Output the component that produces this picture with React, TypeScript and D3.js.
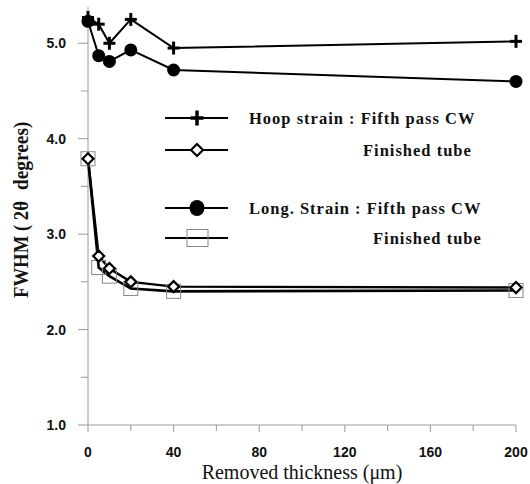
import React from 'react';
import * as d3 from 'd3';

// removed thickness (um) and FWHM (2theta, degrees)
const thickness = [0, 5, 10, 20, 40, 200];
const hoopFifth = [5.27, 5.2, 5.0, 5.25, 4.95, 5.02];
const hoopFinished = [3.79, 2.77, 2.64, 2.5, 2.45, 2.44];
const longFifth = [5.23, 4.87, 4.81, 4.93, 4.72, 4.6];
const longFinished = [3.79, 2.65, 2.56, 2.43, 2.4, 2.41];

const xTicks = [0, 40, 80, 120, 160, 200];
const xMinor = [20, 60, 100, 140, 180];
const yTicks = [1, 2, 3, 4, 5];
const yMinor = [1.5, 2.5, 3.5, 4.5];

const legendLabels = [
  'Hoop strain : Fifth pass CW',
  'Finished tube',
  'Long. Strain :  Fifth pass CW',
  'Finished tube',
];

const W = 530;
const H = 484;

const x = d3.scaleLinear().domain([0, 200]).range([88, 516]);
const y = d3.scaleLinear().domain([1, 5.38]).range([425, 7]);

const line = d3.line<number>()
  .x((_, i) => x(thickness[i]))
  .y(d => y(d));

const axisColor = '#9a9a9a';
const serif = "'Liberation Serif', 'Times New Roman', serif";

const Plus = ({ cx, cy, w = 12, h = 13, sw = 3 }: any) => (
  <g stroke="#000" strokeWidth={sw}>
    <line x1={cx - w / 2} x2={cx + w / 2} y1={cy} y2={cy} />
    <line x1={cx} x2={cx} y1={cy - h / 2} y2={cy + h / 2} />
  </g>
);

const Diamond = ({ cx, cy, r = 5.5 }: any) => (
  <path
    d={`M${cx},${cy - r}L${cx + r},${cy}L${cx},${cy + r}L${cx - r},${cy}Z`}
    fill="#fff" stroke="#000" strokeWidth={2.2}
  />
);

const App = () => {
  const legendRows = [118, 150, 208, 238];
  const legendTextX = [249, 363, 249, 373];

  return (
    <svg width={W} height={H} style={{ position: 'absolute', left: 0, top: 0, background: '#fff' }}>
      {/* axes */}
      <g stroke={axisColor} strokeWidth={1}>
        <line x1={x(0)} x2={x(0)} y1={y(1)} y2={y(5.38)} />
        <line x1={x(0)} x2={x(200)} y1={y(1)} y2={y(1)} />
        {yTicks.map(t => <line key={'yt' + t} x1={x(0) - 10} x2={x(0)} y1={y(t)} y2={y(t)} />)}
        {yMinor.map(t => <line key={'ym' + t} x1={x(0) - 7} x2={x(0)} y1={y(t)} y2={y(t)} />)}
        {xTicks.map(t => <line key={'xt' + t} x1={x(t)} x2={x(t)} y1={y(1)} y2={y(1) + 7} />)}
        {xMinor.map(t => <line key={'xm' + t} x1={x(t)} x2={x(t)} y1={y(1)} y2={y(1) + 6} />)}
      </g>
      <g fontFamily="'Liberation Sans', Arial, sans-serif" fontWeight="bold" fontSize={14} fill="#111">
        {yTicks.map(t => (
          <text key={'yl' + t} x={66} y={y(t)} textAnchor="end" dominantBaseline="central">{t.toFixed(1)}</text>
        ))}
        {xTicks.map(t => (
          <text key={'xl' + t} x={x(t)} y={457} textAnchor="middle">{t}</text>
        ))}
      </g>
      <text x={302} y={479} textAnchor="middle" fontFamily={serif} fontSize={20} fill="#111">
        Removed thickness (μm)
      </text>
      <g transform="translate(28,0) rotate(-90)" fontFamily={serif} fontWeight="bold" fontSize={22} fill="#111" opacity={0.99} style={{ whiteSpace: 'pre' }}>
        <text transform="translate(-298,0) scale(0.85,1)">{'FWHM ( 2θ'}</text>
        <text transform="translate(-190,0) scale(0.88,1)">degrees)</text>
      </g>

      {/* series lines */}
      <g fill="none" stroke="#000">
        <path d={line(hoopFifth) || ''} strokeWidth={2} />
        <path d={line(longFifth) || ''} strokeWidth={2} />
        <path d={line(longFinished) || ''} strokeWidth={2.6} />
        <path d={line(hoopFinished) || ''} strokeWidth={2.4} />
      </g>

      {/* markers */}
      {longFinished.map((v, i) => (
        <rect key={'sq' + i} x={x(thickness[i]) - 7} y={y(v) - 7} width={14} height={14} fill="none" stroke="#888" strokeWidth={1} />
      ))}
      {hoopFinished.map((v, i) => <Diamond key={'dm' + i} cx={x(thickness[i])} cy={y(v)} />)}
      {longFifth.map((v, i) => <circle key={'ci' + i} cx={x(thickness[i])} cy={y(v)} r={6.5} fill="#000" />)}
      {hoopFifth.map((v, i) => <Plus key={'pl' + i} cx={x(thickness[i])} cy={y(v)} />)}

      {/* legend */}
      <g stroke="#000" strokeWidth={2}>
        {legendRows.map(r => <line key={'ll' + r} x1={165} x2={228} y1={r} y2={r} />)}
      </g>
      <Plus cx={197} cy={legendRows[0]} w={13} h={15} sw={3.5} />
      <Diamond cx={197} cy={legendRows[1]} r={6} />
      <ellipse cx={197} cy={legendRows[2]} rx={7.5} ry={8} fill="#000" />
      <rect x={187} y={legendRows[3] - 8.5} width={21} height={17} fill="none" stroke="#888" strokeWidth={1} />
      <g fontFamily={serif} fontWeight="bold" fontSize={16.5} fill="#111" letterSpacing={1} style={{ whiteSpace: 'pre' }}>
        {legendLabels.map((l, i) => (
          <text key={'lt' + i} x={legendTextX[i]} y={legendRows[i] + 5.5}>{l}</text>
        ))}
      </g>
    </svg>
  );
};

export default App;
